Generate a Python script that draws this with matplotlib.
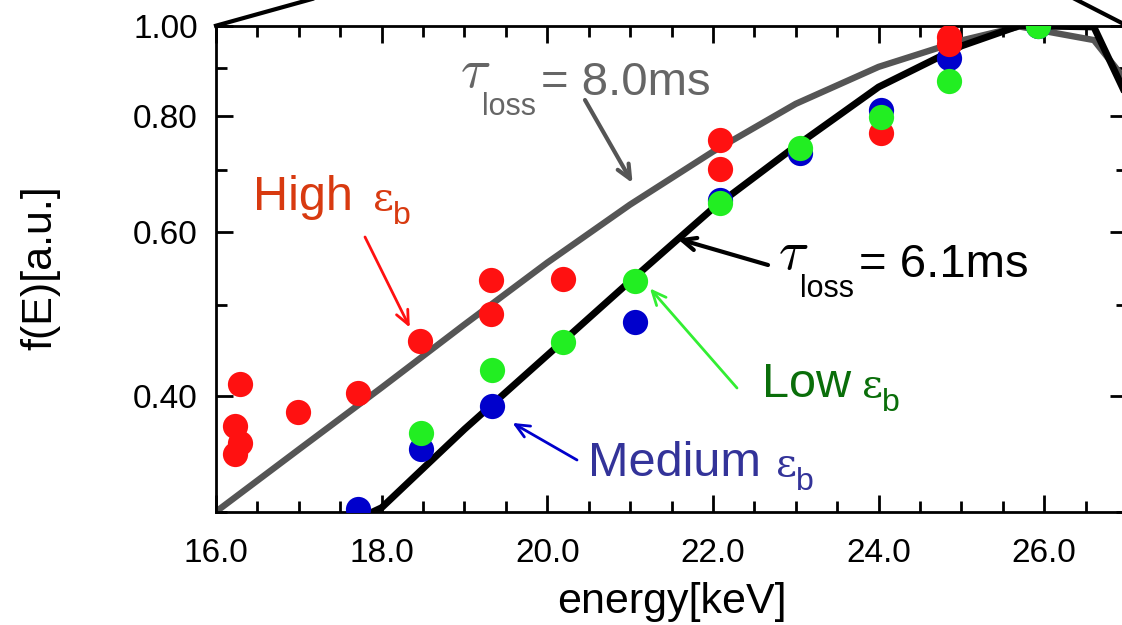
import numpy as np
import matplotlib.pyplot as plt
from matplotlib.ticker import FixedLocator, NullFormatter, FixedFormatter

plt.rcParams['font.family'] = ['Liberation Sans', 'DejaVu Sans']

W, H = 1122, 625

# model curves (tau_loss = 8.0 ms grey, 6.1 ms black)
e_model = [16.0, 17.0, 18.0, 19.0, 20.0, 21.0, 22.0, 23.0, 24.0, 25.0, 25.7, 26.6, 27.0]
f_80ms = [0.300, 0.350, 0.408, 0.477, 0.556, 0.642, 0.732, 0.824, 0.903, 0.964, 0.998, 0.965, 0.87]
f_61ms = [0.249, 0.275, 0.303, 0.368, 0.442, 0.531, 0.636, 0.742, 0.859, 0.951, 1.000, 0.997, 0.838]

# measured points
e_high = [16.29, 16.23, 16.29, 16.23, 16.99, 17.71, 18.46, 19.32, 19.32, 20.19, 22.09, 22.09, 24.03, 24.85, 24.85]
f_high = [0.412, 0.371, 0.356, 0.346, 0.384, 0.403, 0.458, 0.532, 0.490, 0.534, 0.754, 0.702, 0.767, 0.972, 0.956]

e_med = [17.71, 18.47, 19.33, 21.06, 22.09, 23.05, 24.03, 24.85, 25.92]
f_med = [0.302, 0.350, 0.390, 0.480, 0.649, 0.729, 0.811, 0.922, 1.0]

e_low = [18.47, 19.33, 20.19, 21.06, 22.09, 23.05, 24.03, 24.85, 25.92]
f_low = [0.365, 0.426, 0.457, 0.531, 0.644, 0.738, 0.798, 0.872, 1.0]

y_ticks = [0.40, 0.60, 0.80, 1.00]
y_minor = [0.30, 0.50, 0.70, 0.90]
y_labels = ['0.40', '0.60', '0.80', '1.00']
x_ticks = [16, 18, 20, 22, 24, 26]


def fx(px):
    return px / W


def fy(py):
    return 1 - py / H


fig = plt.figure(figsize=(W / 100, H / 100), dpi=100)
ax = fig.add_axes([fx(216), fy(511.7), (1127 - 216) / W, (511.7 - 25.7) / H])

ax.plot(e_model, f_80ms, color='#555555', lw=4.6, solid_joinstyle='miter', zorder=2)
ax.plot(e_model, f_61ms, color='black', lw=5, solid_joinstyle='miter', zorder=2)

ms = 330
ax.scatter(e_med, f_med, s=ms, color='#0000cc', linewidths=0, zorder=3)
ax.scatter(e_high, f_high, s=ms, color='#ff1111', linewidths=0, zorder=4)
ax.scatter(e_low, f_low, s=ms, color='#22ee22', linewidths=0, zorder=5)

ax.set_yscale('log')
ax.set_xlim(16, 27)
ax.set_ylim(0.30, 1.0)
ax.yaxis.set_major_locator(FixedLocator(y_ticks))
ax.yaxis.set_major_formatter(FixedFormatter(y_labels))
ax.yaxis.set_minor_locator(FixedLocator(y_minor))
ax.yaxis.set_minor_formatter(NullFormatter())
ax.set_xticks(x_ticks)
ax.set_xticklabels(['%.1f' % t for t in x_ticks])
ax.set_xticks(np.arange(16, 27.01, 0.5), minor=True)

for s in ax.spines.values():
    s.set_linewidth(2)
ax.tick_params(which='both', direction='in', top=True, right=True, width=2,
               labelsize=24)
ax.tick_params(which='major', length=12)
ax.tick_params(which='minor', length=8)
ax.tick_params(axis='x', pad=19)
ax.tick_params(axis='y', pad=13)

ax.set_xlabel('energy[keV]', fontsize=31, labelpad=9)
fig.text(fx(40), fy(268), 'f(E)[a.u.]', fontsize=31, rotation=90,
         ha='center', va='center')

# connector lines above the frame
fig.add_artist(plt.Line2D([fx(216), fx(312)], [fy(25.7), fy(-1)], color='black', lw=3))
fig.add_artist(plt.Line2D([fx(1075), fx(1127)], [fy(-1), fy(25.7)], color='black', lw=3))


def tau_label(x, y, txt, col):
    fig.text(fx(x), fy(y - 8), r'$\tau$', fontsize=40, color=col, math_fontfamily='cm',
             va='baseline')
    fig.text(fx(x + 22), fy(y + 20), 'loss', fontsize=22, color=col, va='baseline')
    fig.text(fx(x + 81), fy(y), '= ' + txt, fontsize=34, color=col, va='baseline')


def eps_label(x, y, word, col, wx):
    fig.text(fx(x), fy(y), word, fontsize=35, color=col, va='baseline')
    fig.text(fx(x + wx), fy(y), 'ε', fontsize=29, color=col, va='baseline',
             family='DejaVu Serif')
    fig.text(fx(x + wx + 20), fy(y + 14), 'b', fontsize=23, color=col, va='baseline')


tau_label(460, 95, '8.0ms', '#666666')
tau_label(778, 277, '6.1ms', 'black')
eps_label(253, 210, 'High', '#d83a10', 120)
eps_label(588, 476, 'Medium', '#333399', 188)
eps_label(762, 397, 'Low', '#0a6e0a', 100)

arrows = [
    ((21.03, 0.677), (585, 100), '#555555', 3),
    ((18.34, 0.4735), (365, 237), '#ff1111', 2),
    ((21.57, 0.590), (768, 265), 'black', 3),
    ((21.24, 0.5216), (737, 388), '#33ee33', 2),
    ((19.58, 0.3738), (577, 460), '#0000cc', 2),
]
for tip, start, col, lw in arrows:
    ax.annotate('', xy=tip, xycoords='data', xytext=(fx(start[0]), fy(start[1])),
                textcoords='figure fraction',
                arrowprops=dict(arrowstyle='->,head_length=1.0,head_width=0.45',
                                color=col, lw=lw, shrinkA=0, shrinkB=0))

plt.savefig('out.png', dpi=100)
